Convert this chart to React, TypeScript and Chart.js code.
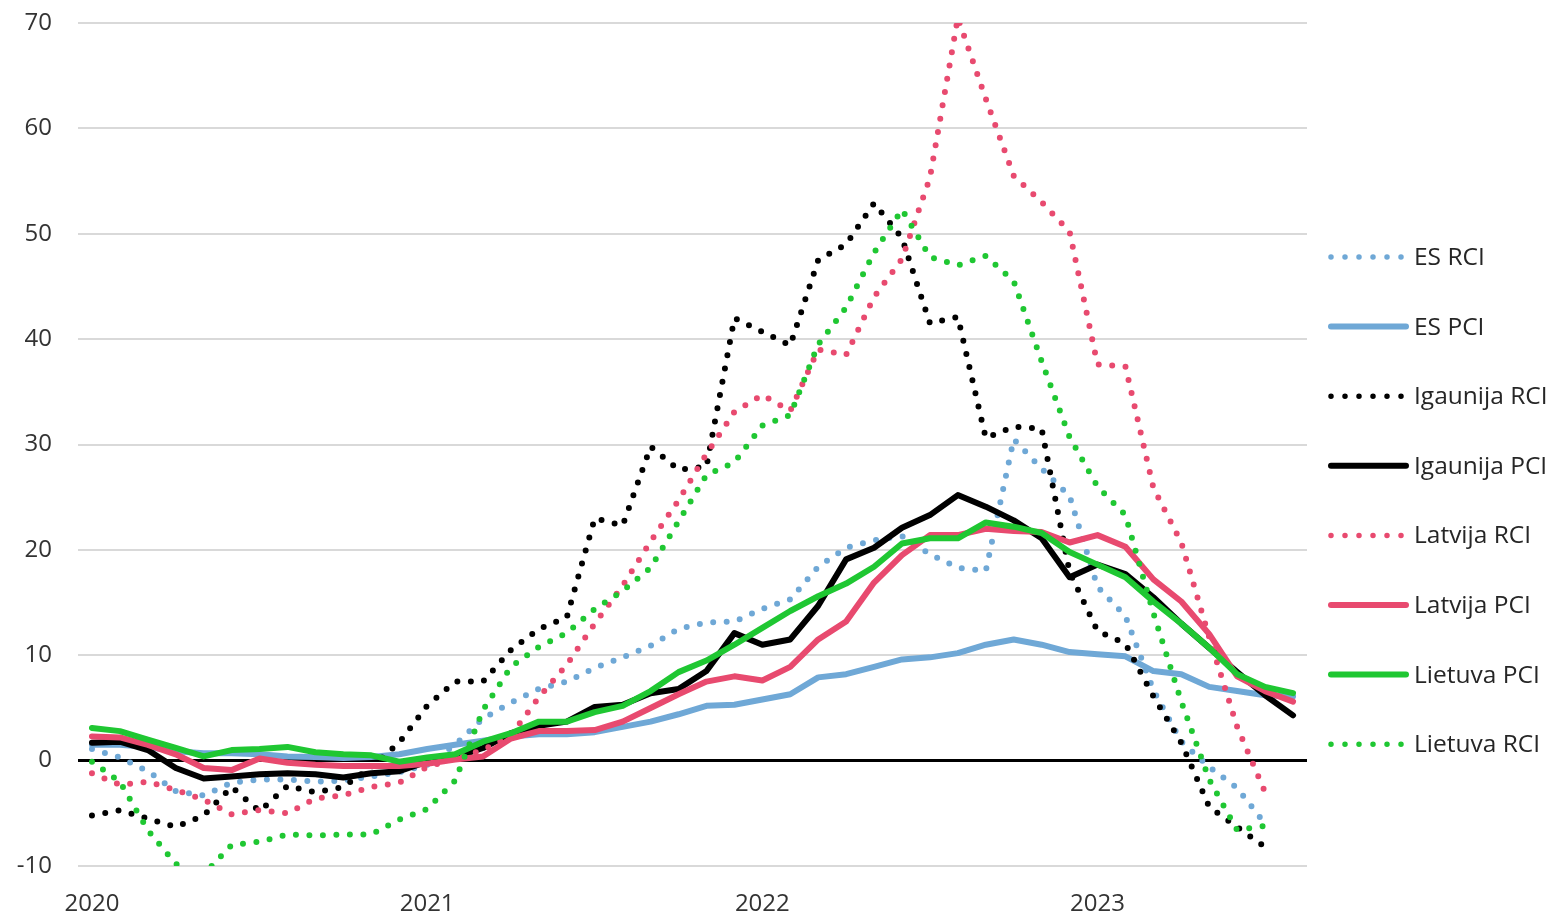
import React, { useEffect, useRef } from 'react';
import { Chart, registerables } from 'chart.js';

Chart.register(...registerables);

const months = [
  '2020-01', '2020-02', '2020-03', '2020-04', '2020-05', '2020-06', '2020-07', '2020-08', '2020-09', '2020-10', '2020-11', '2020-12',
  '2021-01', '2021-02', '2021-03', '2021-04', '2021-05', '2021-06', '2021-07', '2021-08', '2021-09', '2021-10', '2021-11', '2021-12',
  '2022-01', '2022-02', '2022-03', '2022-04', '2022-05', '2022-06', '2022-07', '2022-08', '2022-09', '2022-10', '2022-11', '2022-12',
  '2023-01', '2023-02', '2023-03', '2023-04', '2023-05', '2023-06', '2023-07', '2023-08',
];

const esRci = [
  1.1, 0.3, -1.0, -2.9, -3.3, -2.1, -1.8, -1.8, -2.0, -1.9, -1.5, -1.1,
  -0.4, 1.5, 4.0, 5.5, 6.8, 7.5, 8.8, 9.8, 10.9, 12.5, 13.1, 13.2,
  14.4, 15.3, 18.4, 20.2, 20.9, 21.3, 19.6, 18.3, 18.0, 30.5, 27.7, 25.1,
  16.5, 13.7, 6.7, 1.8, -0.6, -2.6, -6.0, null,
];
const esPci = [
  1.5, 1.5, 1.3, 0.9, 0.7, 0.7, 0.6, 0.4, 0.35, 0.25, 0.35, 0.6,
  1.1, 1.5, 1.9, 2.3, 2.5, 2.5, 2.7, 3.2, 3.7, 4.4, 5.2, 5.3,
  5.8, 6.3, 7.9, 8.2, 8.9, 9.6, 9.8, 10.2, 11.0, 11.5, 11.0, 10.3,
  10.1, 9.9, 8.5, 8.2, 7.0, 6.6, 6.2, 6.1,
];
const igRci = [
  -5.2, -4.7, -5.5, -6.3, -5.2, -2.5, -4.8, -2.4, -3.0, -2.5, -0.6, 1.7,
  5.2, 7.5, 7.5, 10.5, 12.5, 13.6, 23.0, 22.3, 29.8, 27.6, 27.9, 42.0,
  40.7, 39.4, 47.5, 49.0, 52.9, 49.6, 41.5, 42.1, 30.6, 31.7, 31.5, 17.9,
  12.3, 11.1, 6.1, 1.7, -4.4, -6.3, -8.2, null,
];
const igPci = [
  1.7, 1.8, 1.0, -0.7, -1.7, -1.5, -1.3, -1.2, -1.3, -1.6, -1.2, -1.0,
  -0.1, 0.3, 1.2, 2.6, 3.3, 3.7, 5.1, 5.3, 6.4, 6.8, 8.5, 12.1,
  11.0, 11.5, 14.7, 19.1, 20.2, 22.1, 23.3, 25.2, 24.1, 22.8, 21.1, 17.4,
  18.6, 17.7, 15.5, 13.0, 10.7, 8.4, 6.2, 4.3,
];
const lvRci = [
  -1.2, -2.3, -2.0, -2.8, -3.7, -5.1, -4.7, -5.0, -3.6, -3.3, -2.5, -2.1,
  -0.6, 0.2, 1.0, 2.4, 6.0, 9.1, 13.0, 16.6, 20.8, 24.7, 29.1, 33.1,
  34.7, 33.2, 39.0, 38.5, 44.0, 47.6, 55.3, 70.5, 62.8, 55.5, 53.0, 50.2,
  37.6, 37.4, 25.9, 20.7, 11.7, 3.2, -3.0, null,
];
const lvPci = [
  2.3, 2.2, 1.5, 0.6, -0.7, -0.9, 0.2, -0.2, -0.4, -0.5, -0.5, -0.5,
  -0.3, 0.1, 0.4, 2.1, 2.8, 2.8, 2.9, 3.7, 5.0, 6.3, 7.5, 8.0,
  7.6, 8.9, 11.5, 13.2, 16.9, 19.5, 21.4, 21.4, 22.0, 21.8, 21.7, 20.7,
  21.4, 20.3, 17.2, 15.1, 12.0, 8.0, 6.6, 5.6,
];
const ltPci = [
  3.1, 2.8, 2.0, 1.2, 0.4, 1.0, 1.1, 1.3, 0.8, 0.6, 0.5, -0.1,
  0.3, 0.6, 1.8, 2.6, 3.7, 3.7, 4.6, 5.2, 6.6, 8.4, 9.5, 11.0,
  12.6, 14.2, 15.6, 16.8, 18.4, 20.6, 21.1, 21.1, 22.6, 22.2, 21.6, 19.8,
  18.6, 17.4, 15.1, 13.0, 10.7, 8.2, 7.0, 6.4,
];
const ltRci = [
  -0.1, -2.0, -6.6, -9.8, -10.8, -8.0, -7.7, -7.0, -7.1, -7.0, -7.0, -5.6,
  -4.6, -1.9, 4.8, 8.9, 10.8, 12.1, 14.4, 16.1, 18.3, 22.7, 27.1, 28.3,
  31.8, 32.8, 39.5, 43.0, 48.2, 52.3, 47.8, 47.0, 47.9, 45.5, 37.9, 30.7,
  26.0, 23.3, 14.0, 5.6, -1.8, -6.6, -6.2, null,
];

const seriesNames = [
  'ES RCI', 'ES PCI', 'Igaunija RCI', 'Igaunija PCI',
  'Latvija RCI', 'Latvija PCI', 'Lietuva PCI', 'Lietuva RCI',
];

const BLUE = '#6FA8D6';
const BLACK = '#000000';
const RED = '#E84A6F';
const GREEN = '#1FC732';
const FONT = '"Open Sans", "Liberation Sans", sans-serif';

const legendPlugin = {
  id: 'sideLegend',
  afterDraw(chart: any) {
    const ctx = chart.ctx;
    ctx.save();
    chart.data.datasets.forEach((ds: any, i: number) => {
      const y = 257 + i * 69.6;
      const dotted = ds.borderDash && ds.borderDash.length;
      ctx.beginPath();
      ctx.strokeStyle = ds.borderColor;
      ctx.lineWidth = dotted ? 5.5 : ds.borderWidth;
      ctx.lineCap = 'round';
      ctx.setLineDash(dotted ? [0, 14] : []);
      ctx.moveTo(1331, y);
      ctx.lineTo(dotted ? 1402 : 1406, y);
      ctx.stroke();
      ctx.setLineDash([]);
      ctx.fillStyle = '#262626';
      ctx.font = '24.5px ' + FONT;
      ctx.textAlign = 'left';
      ctx.textBaseline = 'middle';
      ctx.fillText(ds.label, 1414, y + 1);
    });
    ctx.restore();
  },
};

function makeDs(label: string, data: (number | null)[], color: string, dotted: boolean, order: number) {
  return {
    label,
    data,
    borderColor: color,
    backgroundColor: color,
    borderWidth: 6,
    borderDash: dotted ? [0, 13.5] : [],
    borderCapStyle: 'round' as const,
    borderJoinStyle: 'round' as const,
    pointRadius: 0,
    pointHoverRadius: 0,
    tension: 0,
    fill: false,
    order,
  };
}

export default function App() {
  const ref = useRef<HTMLCanvasElement | null>(null);

  useEffect(() => {
    if (!ref.current) return;
    const chart = new Chart(ref.current, {
      type: 'line',
      data: {
        labels: months,
        datasets: [
          makeDs(seriesNames[0], esRci, BLUE, true, 7),
          makeDs(seriesNames[1], esPci, BLUE, false, 6),
          makeDs(seriesNames[2], igRci, BLACK, true, 5),
          makeDs(seriesNames[3], igPci, BLACK, false, 4),
          makeDs(seriesNames[4], lvRci, RED, true, 3),
          makeDs(seriesNames[5], lvPci, RED, false, 2),
          makeDs(seriesNames[6], ltPci, GREEN, false, 1),
          makeDs(seriesNames[7], ltRci, GREEN, true, 0),
        ],
      },
      options: {
        responsive: false,
        animation: false,
        devicePixelRatio: 1,
        layout: { padding: { top: 23, right: 248, left: 0, bottom: 0 } },
        plugins: {
          legend: { display: false },
          tooltip: { enabled: false },
        },
        scales: {
          x: {
            type: 'category',
            offset: true,
            grid: { display: false, drawTicks: false },
            border: { display: false },
            ticks: {
              autoSkip: false,
              maxRotation: 0,
              minRotation: 0,
              padding: 24,
              color: '#333333',
              font: { family: FONT, size: 24 },
              callback: function (this: any, value: any) {
                const lab = this.getLabelForValue(value) as string;
                return lab.endsWith('-01') ? lab.slice(0, 4) : '';
              },
            },
            afterFit: (scale: any) => {
              scale.height = 51;
            },
          },
          y: {
            min: -10,
            max: 70,
            grid: {
              drawTicks: false,
              color: (ctx: any) => (ctx.tick && ctx.tick.value === 0 ? '#000000' : '#D9D9D9'),
              lineWidth: (ctx: any) => (ctx.tick && ctx.tick.value === 0 ? 3 : 2),
            },
            border: { display: false },
            ticks: {
              stepSize: 10,
              padding: 26,
              color: '#333333',
              font: { family: FONT, size: 24 },
            },
            afterFit: (scale: any) => {
              scale.width = 78;
              scale.paddingTop = 0;
              scale.paddingBottom = 0;
            },
          },
        },
      },
      plugins: [legendPlugin],
    });
    return () => chart.destroy();
  }, []);

  return (
    <div style={{ position: 'absolute', left: 0, top: 0, width: 1555, height: 917, background: '#fff' }}>
      <canvas ref={ref} width={1555} height={917} style={{ display: 'block', width: 1555, height: 917 }} />
    </div>
  );
}
